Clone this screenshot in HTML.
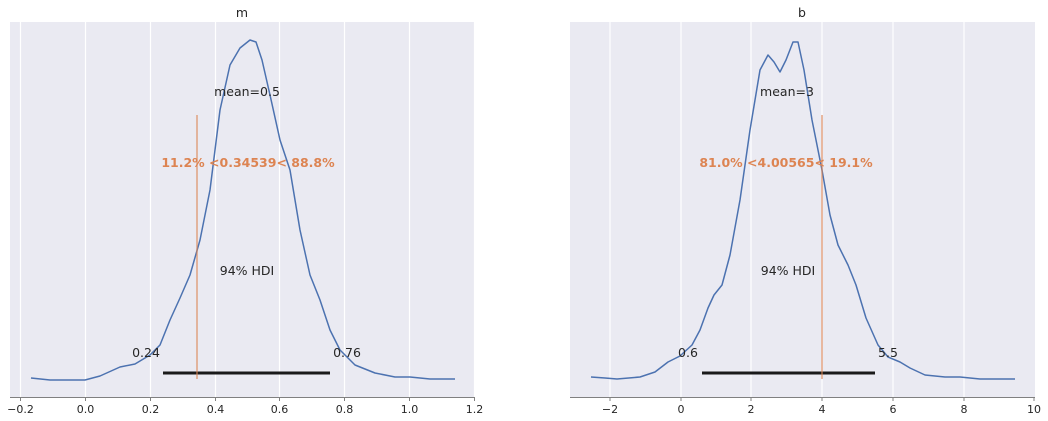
<!DOCTYPE html>
<html><head><meta charset="utf-8"><style>body{margin:0;background:#fff}svg{display:block;font-family:"DejaVu Sans","Liberation Sans",sans-serif}</style></head><body>
<svg width="1048" height="421" viewBox="0 0 1048 421">
<rect x="10" y="22" width="465" height="375" fill="#eaeaf2"/>
<rect x="570" y="22" width="465" height="375" fill="#eaeaf2"/>
<g stroke="#fff" stroke-width="1.2">
<line x1="20.5" y1="22" x2="20.5" y2="397"/><line x1="85.5" y1="22" x2="85.5" y2="397"/><line x1="150.5" y1="22" x2="150.5" y2="397"/><line x1="215.5" y1="22" x2="215.5" y2="397"/><line x1="279.5" y1="22" x2="279.5" y2="397"/><line x1="344.5" y1="22" x2="344.5" y2="397"/><line x1="409.5" y1="22" x2="409.5" y2="397"/><line x1="474.5" y1="22" x2="474.5" y2="397"/>
<line x1="610" y1="22" x2="610" y2="397"/><line x1="681" y1="22" x2="681" y2="397"/><line x1="751" y1="22" x2="751" y2="397"/><line x1="822" y1="22" x2="822" y2="397"/><line x1="893" y1="22" x2="893" y2="397"/><line x1="964" y1="22" x2="964" y2="397"/>
</g>
<g stroke="#808080" stroke-width="1">
<line x1="10" y1="397.5" x2="475" y2="397.5"/><line x1="570" y1="397.5" x2="1035" y2="397.5"/>
<path d="M20.5 397v4M85.5 397v4M150.5 397v4M215.5 397v4M279.5 397v4M344.5 397v4M409.5 397v4M474.5 397v4M610 397v4M681 397v4M751 397v4M822 397v4M893 397v4M964 397v4M1034 397v4"/>
</g>
<g font-size="11" fill="#262626" text-anchor="middle">
<text x="20.5" y="413">−0.2</text><text x="85.5" y="413">0.0</text><text x="150.5" y="413">0.2</text><text x="215.5" y="413">0.4</text><text x="279.5" y="413">0.6</text><text x="344.5" y="413">0.8</text><text x="409.5" y="413">1.0</text><text x="474.5" y="413">1.2</text>
<text x="610" y="413">−2</text><text x="681" y="413">0</text><text x="751" y="413">2</text><text x="822" y="413">4</text><text x="893" y="413">6</text><text x="964" y="413">8</text><text x="1034" y="413">10</text>
</g>
<g fill="none" stroke="#4c72b0" stroke-width="1.5" stroke-linejoin="round">
<path d="M31 378 L50 380 L85 380 L100 376 L120 367 L135 364 L150 355 L160 345 L170 320 L180 298 L190 275 L200 240 L210 190 L220 110 L230 65 L240 48 L250 40 L256 42 L262 60 L270 95 L280 140 L290 170 L300 230 L310 275 L320 300 L330 330 L340 350 L355 365 L375 373 L395 377 L410 377 L430 379 L455 379"/>
<path d="M591 377 L605 378 L617 379 L640 377 L655 372 L668 362 L680 356 L692 345 L700 330 L708 308 L714 295 L722 285 L730 255 L740 200 L750 130 L760 70 L768 55 L774 62 L780 72 L786 60 L793 42 L798 42 L804 70 L812 120 L822 170 L830 215 L838 245 L848 265 L856 285 L866 318 L878 345 L888 357 L900 362 L910 368 L925 375 L945 377 L960 377 L980 379 L1015 379"/>
</g>
<g stroke="#1a1a1a" stroke-width="3"><line x1="163" y1="373" x2="330" y2="373"/><line x1="702" y1="373" x2="875" y2="373"/></g>
<g stroke="#dd8452" stroke-width="1.5" opacity="0.7"><line x1="197" y1="115" x2="197" y2="379"/><line x1="822" y1="115" x2="822" y2="379"/></g>
<g font-size="12.5" fill="#262626" text-anchor="middle">
<text x="242" y="17">m</text><text x="802" y="17">b</text>
<text x="247" y="96">mean=0.5</text><text x="787" y="96">mean=3</text>
<text x="247" y="275">94% HDI</text><text x="788" y="275">94% HDI</text>
<text x="146" y="357">0.24</text><text x="347" y="357">0.76</text>
<text x="688" y="357">0.6</text><text x="888" y="357">5.5</text>
</g>
<g font-size="12.5" font-weight="bold" fill="#dd8452" text-anchor="middle">
<text x="248" y="167">11.2% &lt;0.34539&lt; 88.8%</text><text x="786" y="167">81.0% &lt;4.00565&lt; 19.1%</text>
</g>
</svg>
</body></html>
